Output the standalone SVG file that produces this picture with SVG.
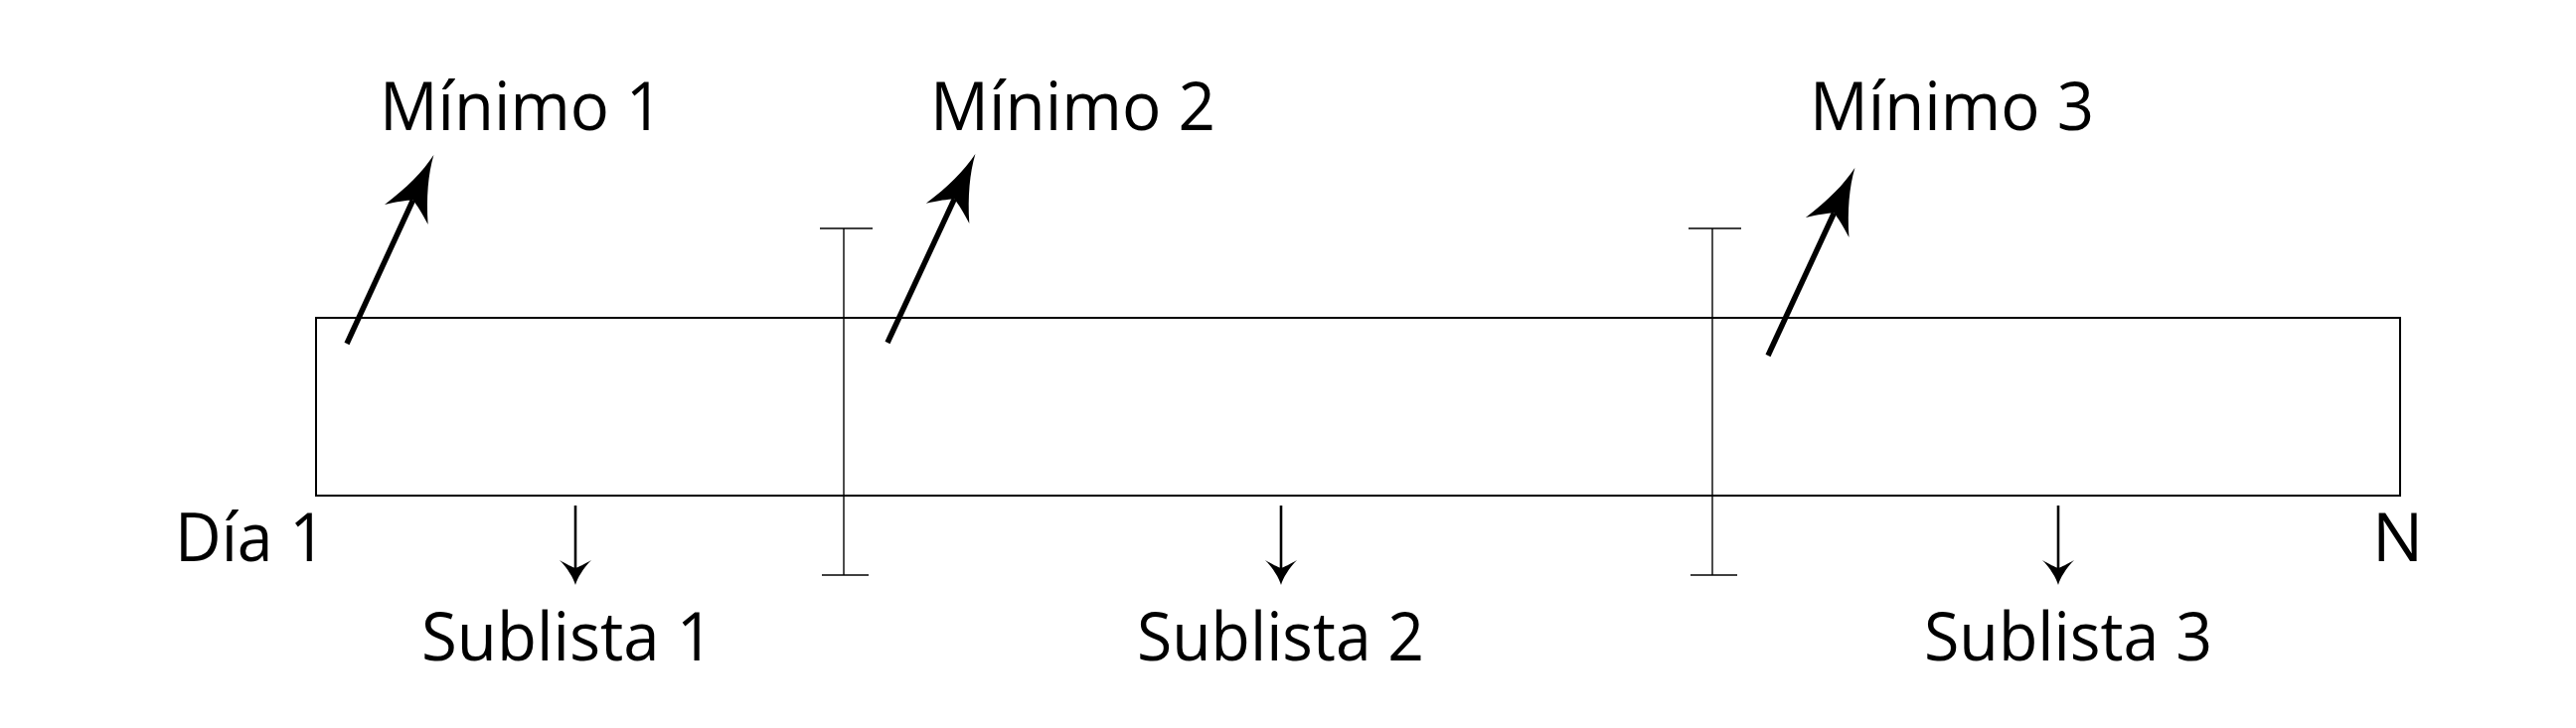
<svg xmlns="http://www.w3.org/2000/svg" width="2592" height="733" viewBox="0 0 2592 733">
<style>
  .lbl { font-family: "Open Sans", "Noto Sans", "Liberation Sans", sans-serif; font-size: 68px; fill: #000; }
  .box { fill: none; stroke: #000; stroke-width: 2; }
  .sep { fill: none; stroke: #000; stroke-width: 1.4; }
  .up { fill: none; stroke: #000; stroke-width: 5.5; marker-end: url(#bigHead); }
  .down { fill: none; stroke: #000; stroke-width: 2.6; marker-end: url(#smallHead); }
</style>
<defs>
  <marker id="bigHead" markerUnits="userSpaceOnUse" markerWidth="120" markerHeight="80" refX="0" refY="0" orient="auto" overflow="visible">
    <path d="M50,0 C30,-3 8,-11 -16,-24 C-8,-14 -3,-6 0,0 C-3,6 -8,14 -16,24 C8,11 30,3 50,0 Z" fill="#000"/>
  </marker>
  <marker id="smallHead" markerUnits="userSpaceOnUse" markerWidth="40" markerHeight="40" refX="0" refY="0" orient="auto" overflow="visible">
    <path d="M17,0 C10,-2 0,-8 -8,-16 C-4,-9 -1,-3 0,0 C-1,3 -4,9 -8,16 C0,8 10,2 17,0 Z" fill="#000"/>
  </marker>
</defs>
<rect width="2592" height="733" fill="#fff"/>

<g id="lista">
  <rect class="box" x="318" y="320" width="2097" height="179"/>
</g>

<g id="separador1">
  <line class="sep" x1="849" y1="230" x2="849" y2="579"/>
  <line class="sep" x1="825" y1="230" x2="878" y2="230"/>
  <line class="sep" x1="827" y1="579" x2="874" y2="579"/>
</g>
<g id="separador2">
  <line class="sep" x1="1723" y1="230" x2="1723" y2="579"/>
  <line class="sep" x1="1699" y1="230" x2="1752" y2="230"/>
  <line class="sep" x1="1701" y1="579" x2="1748" y2="579"/>
</g>

<g id="minimo1"><text class="lbl" x="382" y="131" textLength="285" lengthAdjust="spacingAndGlyphs">Mínimo 1</text></g>
<g id="minimo2"><text class="lbl" x="936" y="131" textLength="287" lengthAdjust="spacingAndGlyphs">Mínimo 2</text></g>
<g id="minimo3"><text class="lbl" x="1821" y="131" textLength="286" lengthAdjust="spacingAndGlyphs">Mínimo 3</text></g>

<g id="dia1"><text class="lbl" x="176" y="565" textLength="152" lengthAdjust="spacingAndGlyphs">Día 1</text></g>
<g id="n"><text class="lbl" x="2387" y="565">N</text></g>

<g id="sublista1"><text class="lbl" x="424" y="665" textLength="294" lengthAdjust="spacingAndGlyphs">Sublista 1</text></g>
<g id="sublista2"><text class="lbl" x="1144" y="665" textLength="289" lengthAdjust="spacingAndGlyphs">Sublista 2</text></g>
<g id="sublista3"><text class="lbl" x="1936" y="665" textLength="290" lengthAdjust="spacingAndGlyphs">Sublista 3</text></g>

<g id="conectores">
  <line class="up" x1="349" y1="346" x2="415.5" y2="201.5"/>
  <line class="up" x1="893" y1="345" x2="960.3" y2="200.4"/>
  <line class="up" x1="1779" y1="358" x2="1845.4" y2="214.5"/>
  <line class="down" x1="579" y1="509" x2="579" y2="572"/>
  <line class="down" x1="1289" y1="509" x2="1289" y2="572"/>
  <line class="down" x1="2071" y1="509" x2="2071" y2="572"/>
</g>
</svg>
